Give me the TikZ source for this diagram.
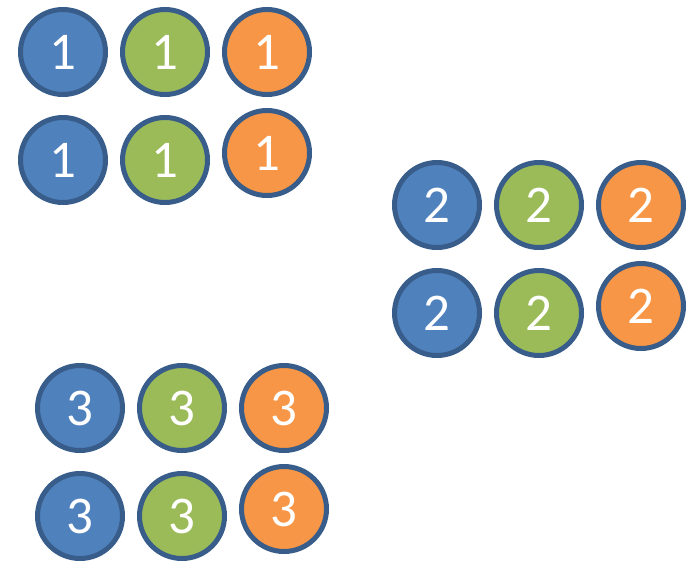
\documentclass[tikz,border=0pt]{standalone}
\usepackage{fontspec}
\setmainfont{Carlito}
\definecolor{ballblue}{HTML}{4F81BD}
\definecolor{ballgreen}{HTML}{9BBB59}
\definecolor{ballorange}{HTML}{F79646}
\definecolor{ballrim}{HTML}{385D8A}
\tikzset{
    ball/.style={circle, draw=ballrim, line width=5pt, minimum size=85pt,
        inner sep=0pt, text=white, font=\fontsize{53}{60}\selectfont}
}
\begin{document}
\begin{tikzpicture}[x=1pt,y=-1pt]
    \useasboundingbox (0,0) rectangle (692,560);
    \foreach \g/\gx/\gy in {1/63/52, 2/437/205, 3/80/408} {
        \foreach \k/\col/\dx/\dy in {a/ballblue/0/0, b/ballgreen/102/0, c/ballorange/204/0,
                                     d/ballblue/0/108, e/ballgreen/102/108, f/ballorange/204/101} {
            \node[ball, fill=\col] (ball\g\k) at (\gx+\dx,\gy+\dy) {\g};
        }
    }
\end{tikzpicture}
\end{document}
